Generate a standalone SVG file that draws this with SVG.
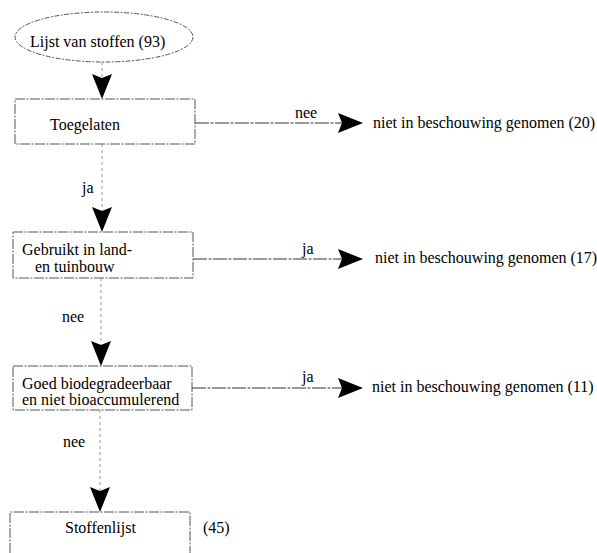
<svg xmlns="http://www.w3.org/2000/svg" width="597" height="553" viewBox="0 0 597 553">
<style>
  .t { font-family: "Liberation Serif", "Times New Roman", serif; font-size: 16px; fill: #000; }
  .box { fill: none; stroke: #555; stroke-width: 1; stroke-dasharray: 10 1.5 2 1.5; }
  .ell { fill: none; stroke: #555; stroke-width: 1; stroke-dasharray: 5 1.5 2 1.5; }
  .conn { fill: none; stroke: #333; stroke-width: 1; stroke-dasharray: 14 1.5 3 1.5; }
  .vconn { fill: none; stroke: #999; stroke-width: 1; stroke-dasharray: 3 3; }
</style>
<defs>
  <path id="hd" d="M0,0 L-10,-25 L0,-21 L10,-25 Z" fill="#000"/>
  <path id="hr" d="M0,0 L-25,-10 L-21,0 L-25,10 Z" fill="#000"/>
</defs>
<rect width="597" height="553" fill="#fff"/>

<g id="start">
  <ellipse cx="104" cy="37" rx="89" ry="25" class="ell"/>
  <text class="t" x="30" y="47">Lijst van stoffen (93)</text>
</g>

<g id="toegelaten">
  <rect x="15" y="99" width="180" height="45" class="box"/>
  <text class="t" x="50" y="130">Toegelaten</text>
</g>

<g id="gebruikt">
  <rect x="13" y="232" width="180" height="46" class="box"/>
  <text class="t" x="22" y="255">Gebruikt in land-</text>
  <text class="t" x="35" y="272">en tuinbouw</text>
</g>

<g id="goed">
  <rect x="13" y="366" width="179" height="44" class="box"/>
  <text class="t" x="22" y="389">Goed biodegradeerbaar</text>
  <text class="t" x="22" y="405">en niet bioaccumulerend</text>
</g>

<g id="stoffenlijst">
  <path d="M10,553 V512 H190 V553" class="box"/>
  <text class="t" x="65" y="533">Stoffenlijst</text>
  <text class="t" x="203" y="533">(45)</text>
</g>

<g id="out20">
  <text class="t" x="373" y="128">niet in beschouwing genomen (20)</text>
</g>
<g id="out17">
  <text class="t" x="375" y="263">niet in beschouwing genomen (17)</text>
</g>
<g id="out11">
  <text class="t" x="372" y="392">niet in beschouwing genomen (11)</text>
</g>

<g id="connectors">
  <line x1="102" y1="62" x2="102" y2="80" class="vconn"/>
  <use href="#hd" x="102" y="99"/>

  <line x1="195" y1="123" x2="346" y2="123" class="conn"/>
  <use href="#hr" x="363" y="123"/>
  <text class="t" x="295" y="118">nee</text>

  <line x1="102" y1="144" x2="102" y2="212" class="vconn"/>
  <use href="#hd" x="102" y="232"/>
  <text class="t" x="82" y="193">ja</text>

  <line x1="193" y1="259" x2="346" y2="259" class="conn"/>
  <use href="#hr" x="363" y="259"/>
  <text class="t" x="302" y="254">ja</text>

  <line x1="101" y1="278" x2="101" y2="346" class="vconn"/>
  <use href="#hd" x="101" y="366"/>
  <text class="t" x="62" y="322">nee</text>

  <line x1="192" y1="388" x2="346" y2="388" class="conn"/>
  <use href="#hr" x="363" y="388"/>
  <text class="t" x="302" y="382">ja</text>

  <line x1="100" y1="410" x2="100" y2="492" class="vconn"/>
  <use href="#hd" x="100" y="512"/>
  <text class="t" x="63" y="447">nee</text>
</g>
</svg>
